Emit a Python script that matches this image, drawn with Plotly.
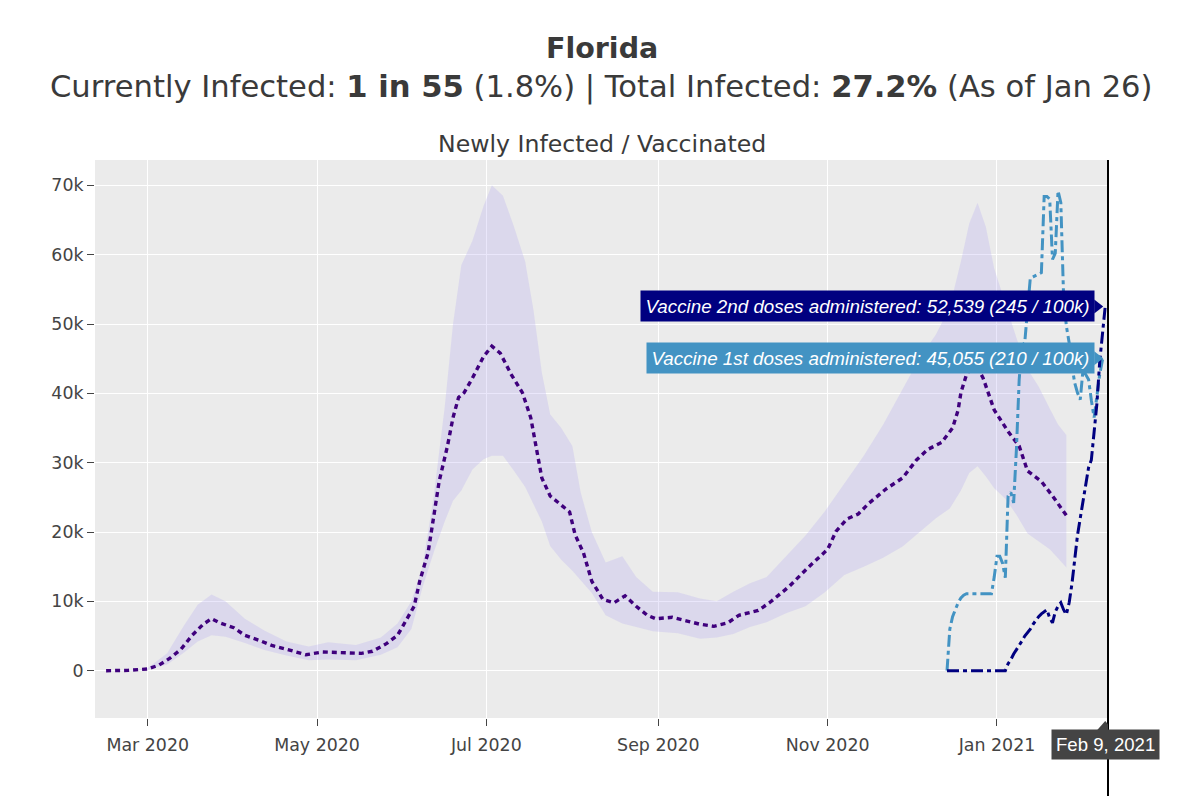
import pandas as pd
import plotly.graph_objects as go

# ---------------- data ----------------
infected_dates = [
    "2020-02-15", "2020-02-23", "2020-03-01", "2020-03-05", "2020-03-09", "2020-03-13",
    "2020-03-17", "2020-03-21", "2020-03-24", "2020-03-27", "2020-04-01", "2020-04-05",
    "2020-04-10", "2020-04-15", "2020-04-20", "2020-04-27", "2020-05-03", "2020-05-10",
    "2020-05-17", "2020-05-21", "2020-05-26", "2020-05-30", "2020-06-02", "2020-06-05",
    "2020-06-07", "2020-06-10", "2020-06-12", "2020-06-14", "2020-06-17", "2020-06-19",
    "2020-06-21", "2020-06-23", "2020-06-26", "2020-06-30", "2020-07-03", "2020-07-06",
    "2020-07-10", "2020-07-14", "2020-07-17", "2020-07-19", "2020-07-21", "2020-07-24",
    "2020-07-27", "2020-07-31", "2020-08-02", "2020-08-05", "2020-08-08", "2020-08-12",
    "2020-08-16", "2020-08-20", "2020-08-24", "2020-08-28", "2020-08-31", "2020-09-06",
    "2020-09-11", "2020-09-16", "2020-09-21", "2020-09-26", "2020-09-30", "2020-10-07",
    "2020-10-11", "2020-10-14", "2020-10-18", "2020-10-25", "2020-11-01", "2020-11-04",
    "2020-11-08", "2020-11-12", "2020-11-16", "2020-11-22", "2020-11-28", "2020-12-03",
    "2020-12-07", "2020-12-12", "2020-12-16", "2020-12-18", "2020-12-19", "2020-12-21",
    "2020-12-24", "2020-12-27", "2020-12-31", "2021-01-05", "2021-01-09", "2021-01-12",
    "2021-01-17", "2021-01-21", "2021-01-26",
]
infected_values = [
    0, 50, 260, 800, 1800, 3100,
    5100, 6700, 7500, 6900, 6200, 5100,
    4400, 3600, 3100, 2300, 2700, 2600,
    2500, 2800, 3900, 5100, 7200, 9300,
    12900, 17000, 22100, 27300, 32400, 36500,
    39400, 40100, 42200, 45300, 46800, 45800,
    42700, 40100, 36500, 31900, 27800, 25200,
    24200, 22900, 19600, 17000, 12900, 10300,
    9800, 10800, 9300, 8000, 7500, 7700,
    7200, 6700, 6400, 6900, 8000, 8700,
    9800, 10800, 12100, 14900, 17500, 20100,
    21900, 22600, 24200, 26200, 27800, 30400,
    31900, 32900, 35000, 37600, 40100, 42700,
    44500, 42200, 37600, 34500, 32400, 28800,
    27300, 25200, 22400,
]

band_dates = [
    "2020-02-15", "2020-02-25", "2020-03-01", "2020-03-08", "2020-03-14", "2020-03-19",
    "2020-03-24", "2020-03-29", "2020-04-05", "2020-04-12", "2020-04-20", "2020-04-28",
    "2020-05-05", "2020-05-15", "2020-05-24", "2020-05-30", "2020-06-04", "2020-06-08",
    "2020-06-12", "2020-06-16", "2020-06-19", "2020-06-22", "2020-06-26", "2020-06-30",
    "2020-07-03", "2020-07-07", "2020-07-11", "2020-07-15", "2020-07-18", "2020-07-21",
    "2020-07-24", "2020-07-28", "2020-08-01", "2020-08-04", "2020-08-08", "2020-08-13",
    "2020-08-19", "2020-08-24", "2020-08-30", "2020-09-08", "2020-09-16", "2020-09-22",
    "2020-09-28", "2020-10-04", "2020-10-10", "2020-10-17", "2020-10-24", "2020-10-31",
    "2020-11-07", "2020-11-14", "2020-11-21", "2020-11-28", "2020-12-04", "2020-12-10",
    "2020-12-15", "2020-12-19", "2020-12-22", "2020-12-25", "2020-12-28", "2020-12-31",
    "2021-01-04", "2021-01-08", "2021-01-12", "2021-01-16", "2021-01-20", "2021-01-23",
    "2021-01-26",
]
band_upper = [
    0, 100, 400, 2500, 6500, 9500,
    11000, 10000, 7500, 5800, 4200, 3500,
    4100, 3700, 4800, 6800, 10000, 15000,
    25000, 38000, 50000, 58500, 62000, 67000,
    70000, 68500, 64000, 59000, 52000, 43000,
    37000, 35000, 32400, 25700, 20000, 15600,
    16500, 13500, 11400, 11300, 10400, 10000,
    11400, 12600, 13500, 16500, 19500, 23000,
    27000, 31000, 35500, 40500, 45000, 48500,
    52500, 59000, 64500, 67500, 64000, 58000,
    53000, 48000, 43500, 41000, 37800, 35500,
    34000,
]
band_lower = [
    0, 0, 150, 900, 2600, 4200,
    5100, 4900, 4000, 3000, 2200, 1500,
    1600, 1500, 2300, 3400, 6000, 12000,
    17000, 21500, 24500, 26000, 29000, 30500,
    31000, 31000, 28800, 26500, 24000, 21500,
    18000, 16000, 14400, 13000, 11200, 8000,
    6800, 6300, 5700, 5400, 4600, 4800,
    5300, 6300, 7000, 8300, 9300, 11300,
    13800, 15000, 16300, 17900, 20000, 22000,
    23400, 26000, 28500, 29500, 28000, 26300,
    24800, 22500, 19800, 18600, 17500, 16200,
    14900,
]

vacc_dates = pd.date_range("2020-12-14", "2021-02-09", freq="D")
first_doses = [
    0, 6000, 7800, 8800, 9800, 10500, 10900, 11100,            # Dec 14-21
    11100, 11100, 11100, 11100, 11100, 11100, 11100, 11100, 11100,  # Dec 22-30
    13500, 16500, 16500, 15500, 13400, 25200, 25700, 24200,     # Dec 31 - Jan 7
    31900, 42000, 46800, 47300, 52000, 56600, 56800, 57000,     # Jan 8 - Jan 15
    57100, 57400, 68400, 68400, 68000, 59300, 60200, 69200,     # Jan 16 - Jan 23
    67500, 54000, 49700, 47300, 44000, 41500, 40100, 39100,     # Jan 24 - Jan 31
    43400, 42700, 42000, 39000, 36500, 39600, 42700, 44800,     # Feb 1 - Feb 8
    45055,                                                      # Feb 9
]
second_doses = [
    0, 0, 0, 0, 0, 0, 0, 0,                                     # Dec 14-21
    0, 0, 0, 0, 0, 0, 0, 0, 0,                                  # Dec 22-30
    0, 0, 0, 0, 0, 1000, 1600, 2400,                            # Dec 31 - Jan 7
    3000, 3700, 4300, 5000, 5500, 6000, 6700, 7300,             # Jan 8 - Jan 15
    7800, 8200, 8500, 8800, 7600, 6900, 8500, 9300,             # Jan 16 - Jan 23
    9800, 8800, 8100, 9800, 12500, 16000, 19500, 22000,         # Jan 24 - Jan 31
    24500, 27000, 29300, 30400, 34000, 38500, 44500, 48500,     # Feb 1 - Feb 8
    52539,                                                      # Feb 9
]

population = 21477737
x_range = ["2020-02-11", "2021-02-10"]
y_ticks = [0, 10000, 20000, 30000, 40000, 50000, 60000, 70000]

# ---------------- styles ----------------
FONT = "DejaVu Sans, Verdana, sans-serif"
HFONT = "Liberation Sans, Arial, sans-serif"
C_INF = "#3f007d"
C_BAND = "rgba(178,166,240,0.27)"
C_V1 = "#4393c3"
C_V2 = "#000080"
C_TXT = "#3a3a3a"

fig = go.Figure()
fig.add_trace(go.Scatter(x=band_dates, y=band_lower, mode="lines",
                         line=dict(width=0, color=C_BAND), showlegend=False, hoverinfo="skip"))
fig.add_trace(go.Scatter(x=band_dates, y=band_upper, mode="lines", fill="tonexty",
                         fillcolor=C_BAND, line=dict(width=0, color=C_BAND),
                         showlegend=False, hoverinfo="skip"))
fig.add_trace(go.Scatter(x=infected_dates, y=infected_values, mode="lines",
                         name="Newly Infected",
                         line=dict(color=C_INF, width=3.4, dash="5px,4px")))
fig.add_trace(go.Scatter(x=vacc_dates, y=first_doses, mode="lines",
                         name="Vaccine 1st doses administered",
                         line=dict(color=C_V1, width=3, dash="12px,4px,4px,4px")))
fig.add_trace(go.Scatter(x=vacc_dates, y=second_doses, mode="lines",
                         name="Vaccine 2nd doses administered",
                         line=dict(color=C_V2, width=3, dash="12px,4px,4px,4px")))

last_date = vacc_dates[-1]
v1_last = first_doses[-1]
v2_last = second_doses[-1]

annotations = [
    dict(text="<b>Florida</b>", xref="paper", yref="paper", x=0.5, y=1.1996,
         xanchor="center", yanchor="middle", showarrow=False,
         font=dict(family=FONT, size=28.5, color=C_TXT)),
    dict(text="Currently Infected: <b>1 in 55</b> (1.8%) | Total Infected: <b>27.2%</b> (As of Jan 26)",
         xref="paper", yref="paper", x=0.5, y=1.1300,
         xanchor="center", yanchor="middle", showarrow=False,
         font=dict(family=FONT, size=30.6, color=C_TXT)),
    dict(text="Newly Infected / Vaccinated", xref="paper", yref="paper", x=0.5, y=1.0295,
         xanchor="center", yanchor="middle", showarrow=False,
         font=dict(family=FONT, size=23.6, color=C_TXT)),
    dict(text=f"<i>Vaccine 2nd doses administered: {v2_last:,} ({round(v2_last / population * 1e5)} / 100k)</i>",
         x=last_date, y=v2_last, xref="x", yref="y", xanchor="right", yanchor="middle",
         xshift=-10, showarrow=False, bgcolor=C_V2, borderpad=4.5,
         font=dict(family=HFONT, size=18.8, color="white")),
    dict(text=f"<i>Vaccine 1st doses administered: {v1_last:,} ({round(v1_last / population * 1e5)} / 100k)</i>",
         x=last_date, y=v1_last, xref="x", yref="y", xanchor="right", yanchor="middle",
         xshift=-10, showarrow=False, bgcolor=C_V1, borderpad=4.5,
         font=dict(family=HFONT, size=18.8, color="white")),
    dict(text=last_date.strftime("%b ") + str(last_date.day) + last_date.strftime(", %Y"),
         x=last_date, y=0, xref="x", yref="paper", xanchor="center", yanchor="top",
         yshift=-11, showarrow=False, bgcolor="#444444", borderpad=4,
         font=dict(family=HFONT, size=18.6, color="white")),
]

shapes = [
    dict(type="line", xref="paper", yref="paper", x0=1, x1=1, y0=-0.2, y1=1,
         line=dict(color="black", width=2), layer="above"),
    dict(type="path", xref="x", yref="y", xsizemode="pixel", ysizemode="pixel",
         xanchor=last_date, yanchor=v2_last, path="M -11,-7 L -2,0 L -11,7 Z",
         fillcolor=C_V2, line=dict(width=0), layer="above"),
    dict(type="path", xref="x", yref="y", xsizemode="pixel", ysizemode="pixel",
         xanchor=last_date, yanchor=v1_last, path="M -11,-7 L -2,0 L -11,7 Z",
         fillcolor=C_V1, line=dict(width=0), layer="above"),
    dict(type="path", xref="x", yref="paper", xsizemode="pixel", ysizemode="pixel",
         xanchor=last_date, yanchor=0, path="M -8,-12 L 0,-3 L 8,-12 Z",
         fillcolor="#444444", line=dict(width=0), layer="above"),
]

fig.update_layout(
    width=1200, height=796,
    margin=dict(l=87, r=100, t=152, b=86),
    paper_bgcolor="white", plot_bgcolor="#ebebeb",
    font=dict(family=FONT, size=17.4, color="#444"),
    showlegend=False,
    annotations=annotations,
    shapes=shapes,
    xaxis=dict(range=x_range, type="date", tick0="2020-01-01", dtick="M2",
               tickformat="%b %Y", showgrid=True, gridcolor="white", gridwidth=1.4,
               ticks="outside", ticklen=7, tickwidth=1.4, tickcolor="#444",
               ticklabelstandoff=4,
               zeroline=False, showline=False,
               tickfont=dict(family=FONT, size=17.4, color="#444")),
    yaxis=dict(range=[-6820, 73650], tickvals=y_ticks, tickformat="~s",
               showgrid=True, gridcolor="white", gridwidth=1.4,
               ticks="outside", ticklen=7, tickwidth=1.4, tickcolor="#444",
               zeroline=False, showline=False,
               tickfont=dict(family=FONT, size=17.4, color="#444")),
)

fig.write_html("out.html")
